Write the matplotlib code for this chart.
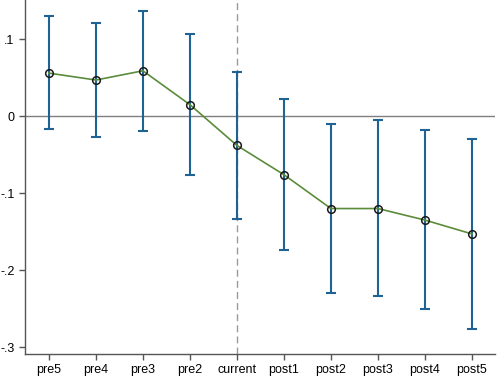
import matplotlib
matplotlib.use("Agg")
import matplotlib.pyplot as plt

# event-time labels, point estimates and 95% CI bounds
periods = ["pre5", "pre4", "pre3", "pre2", "current",
           "post1", "post2", "post3", "post4", "post5"]
coef  = [0.056, 0.047, 0.059, 0.015, -0.038, -0.076, -0.120, -0.120, -0.135, -0.153]
ci_lo = [-0.017, -0.027, -0.019, -0.076, -0.134, -0.174, -0.230, -0.234, -0.251, -0.276]
ci_hi = [0.130, 0.121, 0.137, 0.107, 0.058, 0.022, -0.010, -0.005, -0.018, -0.030]
yticks = [0.1, 0.0, -0.1, -0.2, -0.3]
ytick_labels = [".1", "0", "-.1", "-.2", "-.3"]

plt.rcParams["font.family"] = ["Liberation Sans", "DejaVu Sans"]

fig = plt.figure(figsize=(4.98, 3.79), dpi=100)
ax = fig.add_axes([0.050, 0.066, 0.944, 0.934])

x = list(range(1, len(periods) + 1))
err_lo = [c - lo for c, lo in zip(coef, ci_lo)]
err_hi = [hi - c for c, hi in zip(coef, ci_hi)]

ax.axhline(0, color="#7f7f7f", lw=1.0, zorder=1)
ax.axvline(periods.index("current") + 1, color="#9a9a9a", lw=1.0,
           ls=(0, (5, 3)), zorder=1)

ax.errorbar(x, coef, yerr=[err_lo, err_hi], fmt="none", ecolor="#1f6394",
            elinewidth=1.5, capsize=3.5, capthick=1.5, zorder=2)
ax.plot(x, coef, color="#5b8c3a", lw=1.2, zorder=3)
ax.plot(x, coef, ls="none", marker="o", ms=5.5, mfc="none", mec="#1a1a1a",
        mew=1.1, zorder=4)

ax.set_xlim(0.49, 10.49)
ax.set_ylim(-0.309, 0.151)
ax.set_xticks(x)
ax.set_xticklabels(periods)
ax.set_yticks(yticks)
ax.set_yticklabels(ytick_labels)
ax.tick_params(labelsize=9, length=4, width=1, color="#555555")

for side in ("top", "right"):
    ax.spines[side].set_visible(False)
for side in ("left", "bottom"):
    ax.spines[side].set_color("#555555")
    ax.spines[side].set_linewidth(1.0)

fig.savefig("out.png", dpi=100)
